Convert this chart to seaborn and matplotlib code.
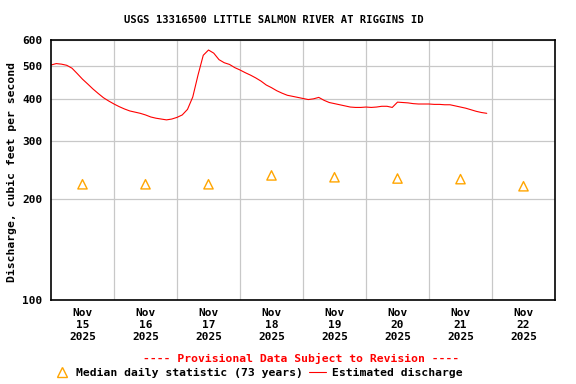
import pandas as pd
import matplotlib
matplotlib.use("Agg")
import matplotlib.pyplot as plt
import seaborn as sns
from matplotlib.lines import Line2D
from matplotlib.ticker import FixedLocator, NullLocator

# Estimated discharge (cfs), every 2 hours starting Nov 15 2025 00:00
discharge = [
    505, 510, 508, 504, 494, 476, 458, 443, 428, 415, 403, 394,
    386, 379, 373, 368, 365, 362, 358, 353, 350, 348, 346, 348,
    352, 358, 372, 405, 471, 540, 560, 548, 524, 513, 507, 496,
    488, 479, 471, 462, 452, 440, 432, 423, 416, 410, 407, 404,
    401, 398, 400, 404, 396, 390, 387, 384, 381, 378, 377, 377,
    378, 377, 378, 380, 380, 377, 391, 390, 389, 387, 386, 386,
    386, 385, 385, 384, 384, 381, 378, 375, 371, 367, 364, 362,
]

# Median daily statistic (73 years), at noon of each day
median_days = ["2025-11-15", "2025-11-16", "2025-11-17", "2025-11-18",
               "2025-11-19", "2025-11-20", "2025-11-21", "2025-11-22"]
median_values = [222, 222, 222, 236, 233, 231, 230, 219]

day_labels = ["Nov\n15\n2025", "Nov\n16\n2025", "Nov\n17\n2025", "Nov\n18\n2025",
              "Nov\n19\n2025", "Nov\n20\n2025", "Nov\n21\n2025", "Nov\n22\n2025"]
y_ticks = [100, 200, 300, 400, 500, 600]

df = pd.DataFrame({
    "time": pd.date_range("2025-11-15", periods=len(discharge), freq="2h"),
    "discharge": discharge,
})
med = pd.DataFrame({
    "time": pd.to_datetime(median_days) + pd.Timedelta(hours=12),
    "median": median_values,
})

sns.set_style("white")
plt.rcParams["font.family"] = ["DejaVu Sans Mono"]
plt.rcParams["font.weight"] = "bold"
plt.rcParams["text.color"] = "black"
plt.rcParams["xtick.color"] = "black"
plt.rcParams["ytick.color"] = "black"

fig = plt.figure(figsize=(5.76, 3.84), dpi=100)
ax = fig.add_axes([51 / 576, 1 - 300 / 384, 504 / 576, 260 / 384])

sns.lineplot(data=df, x="time", y="discharge", ax=ax, color="red", linewidth=0.8)
sns.scatterplot(data=med, x="time", y="median", ax=ax, marker="^", s=45,
                facecolors="none", edgecolors="#FFA500", linewidth=1.0, zorder=5)

ax.set_yscale("log")
ax.set_ylim(100, 600)
ax.yaxis.set_major_locator(FixedLocator(y_ticks))
ax.yaxis.set_minor_locator(NullLocator())
ax.set_yticklabels([str(v) for v in y_ticks])

days = pd.to_datetime(median_days)
ax.set_xlim(pd.Timestamp("2025-11-15"), pd.Timestamp("2025-11-23"))
ax.set_xticks(days + pd.Timedelta(hours=12))
ax.set_xticklabels(day_labels)
ax.set_xticks(days[1:], minor=True)

ax.grid(False)
ax.grid(True, which="minor", axis="x", color="#c8c8c8", linewidth=0.9)
ax.grid(True, which="major", axis="y", color="#c8c8c8", linewidth=0.9)
ax.set_axisbelow(True)

ax.tick_params(axis="both", which="both", length=0, labelsize=8, labelcolor="black")
ax.tick_params(axis="x", pad=6)
ax.tick_params(axis="y", pad=6)
for lab in ax.get_xticklabels() + ax.get_yticklabels():
    lab.set_fontweight("bold")
for sp in ax.spines.values():
    sp.set_color("black")
    sp.set_linewidth(1.2)

ax.set_xlabel("")
ax.set_ylabel("")

fig.text(274 / 576, 1 - 20 / 384, "USGS 13316500 LITTLE SALMON RIVER AT RIGGINS ID",
         ha="center", va="center", fontsize=7.6, fontweight="bold", color="black")
fig.text(12 / 576, 1 - 172 / 384, "Discharge, cubic feet per second",
         rotation=90, ha="center", va="center", fontsize=8.2, fontweight="bold",
         color="black")
fig.text(301 / 576, 1 - 358 / 384, "---- Provisional Data Subject to Revision ----",
         ha="center", va="center", fontsize=8.2, fontweight="bold", color="red")

handles = [
    Line2D([], [], marker="^", linestyle="none", markerfacecolor="none",
           markeredgecolor="#FFA500", markersize=6.5, markeredgewidth=1.0),
    Line2D([], [], color="red", linewidth=0.8),
]
leg = fig.legend(handles, ["Median daily statistic (73 years)", "Estimated discharge"],
                 loc="center", bbox_to_anchor=(258 / 576, 1 - 373 / 384), ncol=2,
                 frameon=False, fontsize=8.2, handlelength=1.5, handletextpad=0.5,
                 columnspacing=0.5, borderpad=0, borderaxespad=0)
for t in leg.get_texts():
    t.set_color("black")

fig.savefig("out.png", dpi=100)
